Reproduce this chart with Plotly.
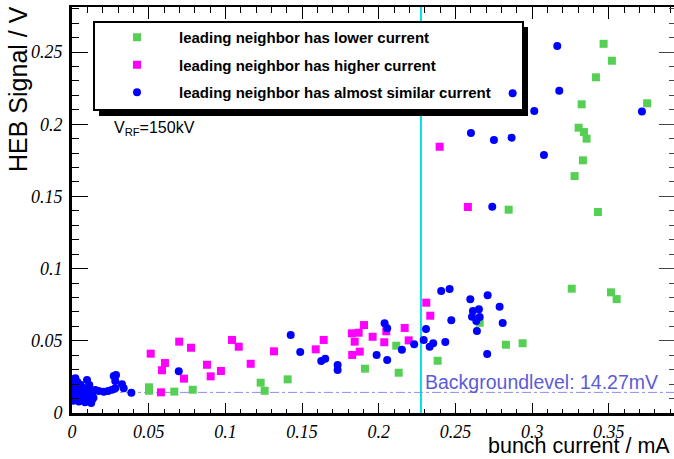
import plotly.graph_objects as go

# ---------------- data ----------------
lower_x = [0.3466, 0.3520, 0.3416, 0.3323, 0.3750, 0.3303, 0.3338, 0.3355, 0.3331, 0.3277,
           0.2847, 0.3429, 0.3258, 0.3514, 0.3551, 0.2658, 0.2829, 0.2938, 0.2384, 0.2114,
           0.2130, 0.1910, 0.1230, 0.1256, 0.1406, 0.0502, 0.0502, 0.0667, 0.0787]
lower_y = [0.2557, 0.2440, 0.2325, 0.2138, 0.2145, 0.1976, 0.1946, 0.1900, 0.1750, 0.1641,
           0.1408, 0.1392, 0.0861, 0.0836, 0.0789, 0.0625, 0.0473, 0.0483, 0.0362, 0.0466,
           0.0279, 0.0307, 0.0210, 0.0154, 0.0233, 0.0178, 0.0154, 0.0148, 0.0161]

higher_x = [0.2397, 0.2581, 0.2310, 0.2336, 0.2169, 0.2195, 0.2049, 0.2036, 0.0513, 0.0606,
            0.0587, 0.0699, 0.0730, 0.0776, 0.0880, 0.0904, 0.0971, 0.1043, 0.1087, 0.1165,
            0.1317, 0.1589, 0.1641, 0.1825, 0.1869, 0.1843, 0.1904, 0.1827, 0.1876, 0.1960,
            0.0580]
higher_y = [0.1844, 0.1427, 0.0764, 0.0674, 0.0589, 0.0503, 0.0566, 0.0490, 0.0411, 0.0346,
            0.0296, 0.0494, 0.0238, 0.0452, 0.0334, 0.0254, 0.0291, 0.0506, 0.0459, 0.0341,
            0.0427, 0.0441, 0.0506, 0.0552, 0.0556, 0.0494, 0.0609, 0.0402, 0.0425, 0.0528,
            0.0143]

similar_x = [0.3164, 0.2873, 0.3177, 0.3014, 0.3716, 0.2601, 0.2751, 0.2866, 0.3077, 0.2740,
             0.2407, 0.2462, 0.2597, 0.2710, 0.2788, 0.2614, 0.2653, 0.2608, 0.2658, 0.2636,
             0.2808, 0.2640, 0.2473, 0.2308, 0.2293, 0.2355, 0.2332, 0.2434, 0.2231, 0.2707,
             0.2038, 0.2055, 0.2151, 0.2055, 0.1986, 0.1426, 0.1488, 0.1625, 0.1651, 0.1732,
             0.1732, 0.0696,
             0.0152, 0.0174, 0.0207, 0.0235, 0.0261, 0.0282, 0.0272, 0.0287, 0.0282, 0.0326,
             0.0337, 0.0387, 0.0098, 0.0113, 0.0076, 0.0130, 0.0022,
             0.0008, 0.0008, 0.0008, 0.0010, 0.0012, 0.0025, 0.0028, 0.0030, 0.0035, 0.0045,
             0.0048, 0.0050, 0.0055, 0.0065, 0.0068, 0.0072, 0.0085, 0.0088, 0.0090, 0.0105,
             0.0108, 0.0112, 0.0125, 0.0128, 0.0135, 0.0140]
similar_y = [0.2542, 0.2214, 0.2232, 0.2091, 0.2089, 0.1939, 0.1891, 0.1907, 0.1787, 0.1429,
             0.0845, 0.0859, 0.0787, 0.0815, 0.0736, 0.0706, 0.0718, 0.0667, 0.0665, 0.0637,
             0.0623, 0.0568, 0.0642, 0.0582, 0.0506, 0.0483, 0.0459, 0.0492, 0.0476, 0.0409,
             0.0621, 0.0587, 0.0438, 0.0367, 0.0402, 0.0540, 0.0422, 0.0360, 0.0376, 0.0332,
             0.0298, 0.0289,
             0.0159, 0.0152, 0.0148, 0.0152, 0.0161, 0.0171, 0.0256, 0.0263, 0.0222, 0.0199,
             0.0171, 0.0141, 0.0229, 0.0194, 0.0113, 0.0090, 0.0240,
             0.0085, 0.0125, 0.0165, 0.0205, 0.0235, 0.0105, 0.0145, 0.0185, 0.0215, 0.0080,
             0.0120, 0.0160, 0.0195, 0.0095, 0.0140, 0.0175, 0.0075, 0.0115, 0.0155, 0.0100,
             0.0135, 0.0165, 0.0070, 0.0120, 0.0150, 0.0105]

series_names = ["leading neighbor has lower current",
                "leading neighbor has higher current",
                "leading neighbor has almost similar current"]

background_level = 0.01427
background_label = "Backgroundlevel: 14.27mV"
cut_current = 0.2275

x_tick_vals = [0, 0.05, 0.1, 0.15, 0.2, 0.25, 0.3, 0.35]
x_tick_text = ["0", "0.05", "0.1", "0.15", "0.2", "0.25", "0.3", "0.35"]
y_tick_vals = [0, 0.05, 0.1, 0.15, 0.2, 0.25]
y_tick_text = ["0", "0.05", "0.1", "0.15", "0.2", "0.25"]
x_range = [0, 0.3925]
y_range = [0, 0.2812]

# ---------------- figure ----------------
W, H = 674, 459
ML, MR, MT, MB = 72, 0, 7, 46
PW, PH = W - ML - MR, H - MT - MB

def px_x(p):
    return (p - ML) / PW

def px_y(p):
    return (H - MB - p) / PH

fig = go.Figure()
fig.add_trace(go.Scatter(x=lower_x, y=lower_y, mode="markers", name=series_names[0],
                         legendgroup="a",
                         marker=dict(symbol="square", size=8, color="#55d055"), cliponaxis=False))
fig.add_trace(go.Scatter(x=higher_x, y=higher_y, mode="markers", name=series_names[1],
                         legendgroup="b",
                         marker=dict(symbol="square", size=8, color="#ff00ff"), cliponaxis=False))
fig.add_trace(go.Scatter(x=similar_x, y=similar_y, mode="markers", name=series_names[2],
                         legendgroup="c",
                         marker=dict(symbol="circle", size=8, color="#0000ff"), cliponaxis=False))
# empty trace so that the mirror axes (top/right) are drawn
fig.add_trace(go.Scatter(x=[], y=[], xaxis="x2", yaxis="y2", showlegend=False))

tickfont = dict(family="Liberation Serif", size=18, style="italic", color="black")

fig.update_layout(
    width=W, height=H,
    margin=dict(l=ML, r=MR, t=MT, b=MB, pad=0),
    paper_bgcolor="white", plot_bgcolor="white",
    font=dict(family="Liberation Sans", color="black"),
    showlegend=True,
    legend=dict(x=px_x(95), y=px_y(21), xanchor="left", yanchor="top",
                bgcolor="rgba(0,0,0,0)", borderwidth=0,
                itemwidth=74, tracegroupgap=5,
                font=dict(family="Liberation Sans", size=15, weight="bold", color="black")),
    xaxis=dict(range=x_range, showgrid=False, zeroline=False,
               showline=True, linecolor="black", linewidth=3,
               ticks="inside", ticklen=10, tickwidth=1, tickcolor="black",
               tickmode="array", tickvals=x_tick_vals, ticktext=x_tick_text,
               minor=dict(ticks="inside", ticklen=4, dtick=0.01, tick0=0, tickcolor="black", showgrid=False),
               tickfont=tickfont, ticklabelstandoff=0),
    yaxis=dict(range=y_range, showgrid=False, zeroline=False,
               showline=True, linecolor="black", linewidth=3,
               ticks="inside", ticklen=16, tickwidth=1, tickcolor="black",
               tickmode="array", tickvals=y_tick_vals, ticktext=y_tick_text,
               minor=dict(ticks="inside", ticklen=7, dtick=0.01, tick0=0, tickcolor="black", showgrid=False),
               tickfont=tickfont, ticklabelstandoff=3),
    xaxis2=dict(range=x_range, overlaying="x", side="top", anchor="y",
                showgrid=False, zeroline=False, showticklabels=False,
                showline=True, linecolor="black", linewidth=2,
                ticks="inside", ticklen=12, tickwidth=1, tickcolor="black",
                tickmode="array", tickvals=x_tick_vals,
                minor=dict(ticks="inside", ticklen=6, dtick=0.01, tick0=0, tickcolor="black", showgrid=False)),
    yaxis2=dict(range=y_range, overlaying="y", side="right", anchor="x",
                showgrid=False, zeroline=False, showticklabels=False,
                showline=True, linecolor="#444444", linewidth=2,
                ticks="inside", ticklen=15, tickwidth=1, tickcolor="#444444",
                tickmode="array", tickvals=y_tick_vals,
                minor=dict(ticks="inside", ticklen=5, dtick=0.01, tick0=0, tickcolor="#444444", showgrid=False)),
)

shapes = []
# cut line (cyan)
shapes.append(dict(type="line", xref="x", yref="paper", x0=cut_current, x1=cut_current, y0=0, y1=1,
                   line=dict(color="#00e0e0", width=2), layer="below"))
# background level line
shapes.append(dict(type="line", xref="paper", yref="y", x0=0, x1=1, y0=background_level, y1=background_level,
                   line=dict(color="#8c8cf0", width=1, dash="dashdot"), layer="below"))
# legend shadow + box
shapes.append(dict(type="rect", xref="paper", yref="paper",
                   x0=px_x(99), x1=px_x(528), y0=px_y(116), y1=px_y(27),
                   fillcolor="black", line=dict(width=0), layer="below"))
shapes.append(dict(type="rect", xref="paper", yref="paper",
                   x0=px_x(94), x1=px_x(523), y0=px_y(110), y1=px_y(22),
                   fillcolor="white", line=dict(color="black", width=2), layer="below"))
fig.update_layout(shapes=shapes)

annotations = [
    dict(text=background_label, xref="paper", yref="y", x=px_x(660), y=background_level,
         xanchor="right", yanchor="bottom", showarrow=False, yshift=-3,
         font=dict(family="Liberation Sans", size=19.5, color="#5c5cd6")),
    dict(text="V<sub>RF</sub>=150kV", xref="paper", yref="paper", x=px_x(112), y=px_y(128),
         xanchor="left", yanchor="middle", showarrow=False,
         font=dict(family="Liberation Sans", size=16, color="black")),
    dict(text="bunch current / mA", xref="paper", yref="paper", x=px_x(672), y=px_y(460),
         xanchor="right", yanchor="bottom", showarrow=False,
         font=dict(family="Liberation Sans", size=21.5, color="black")),
    dict(text="HEB Signal / V", xref="paper", yref="paper", x=px_x(18), y=px_y(4),
         xanchor="center", yanchor="top", textangle=-90, showarrow=False,
         font=dict(family="Liberation Sans", size=25, color="black")),
]
fig.update_layout(annotations=annotations)

fig.write_html("out.html")
